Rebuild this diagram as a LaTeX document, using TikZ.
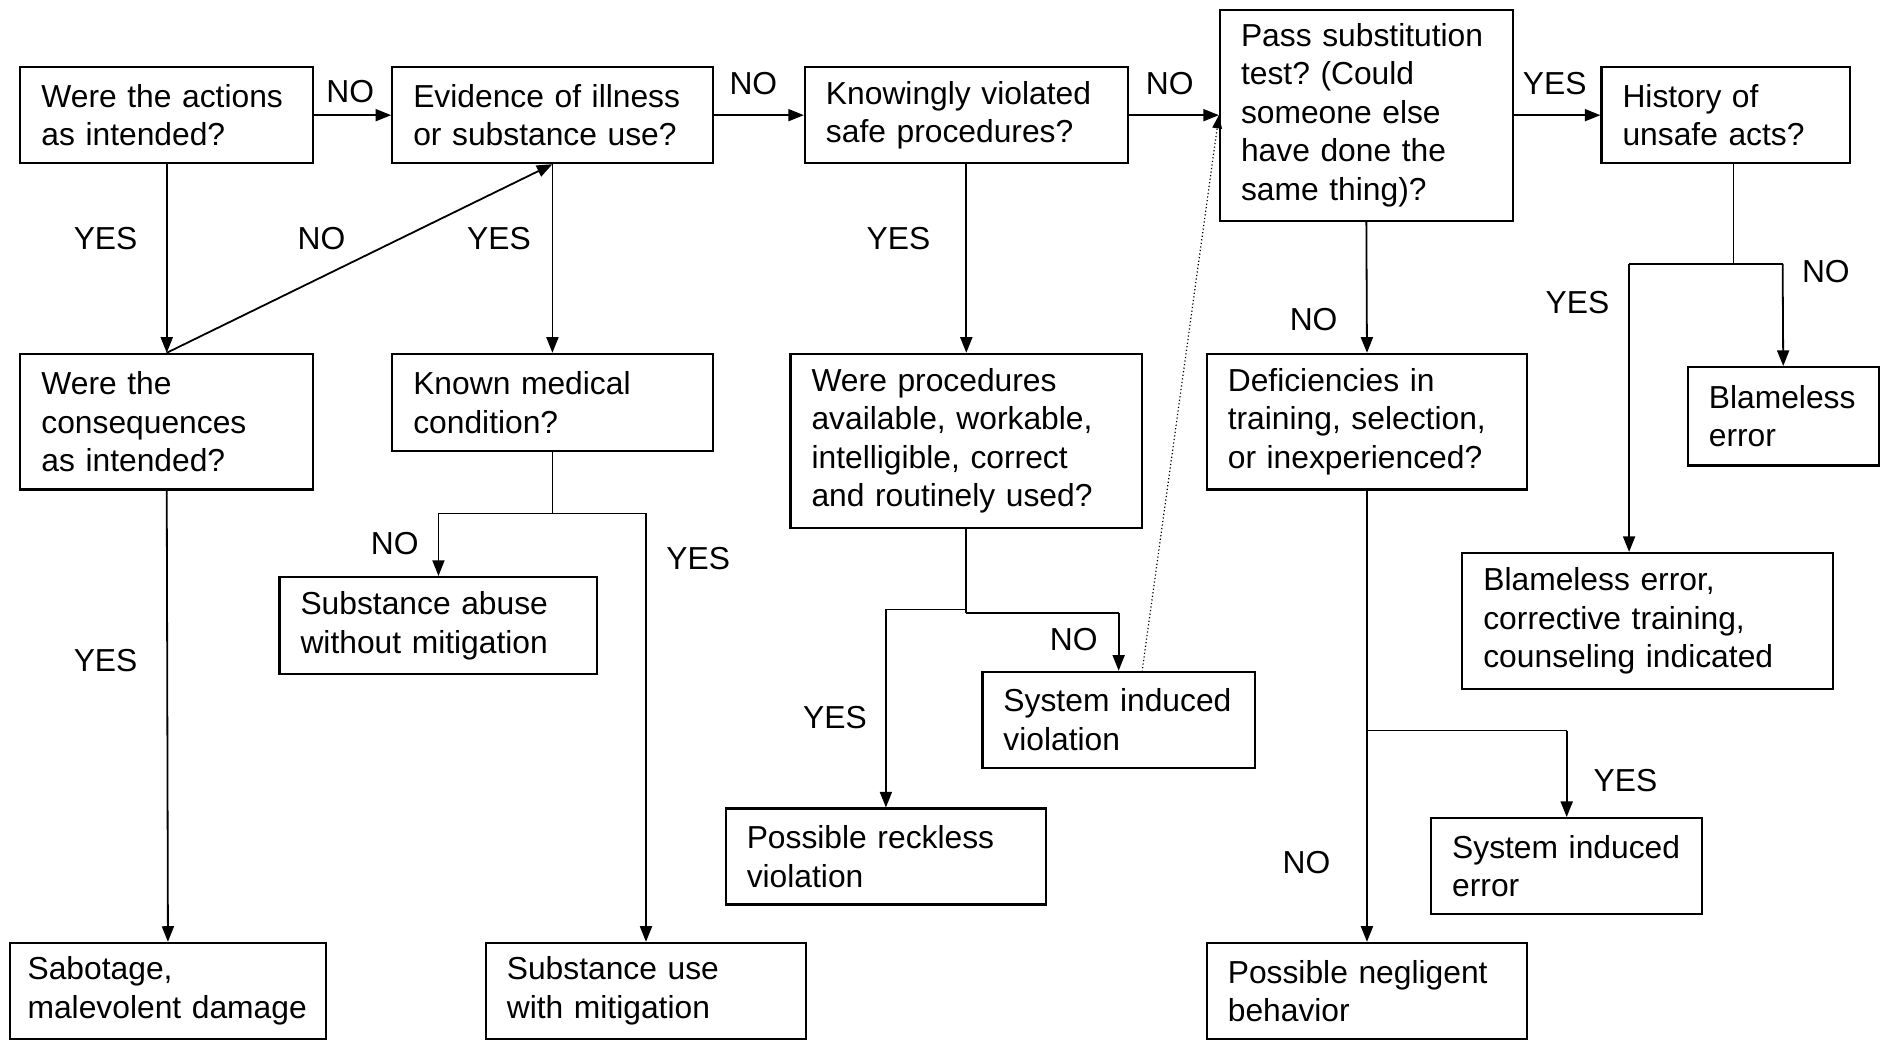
\documentclass[tikz,border=0pt]{standalone}
\usepackage{fontspec}
\setmainfont{Liberation Sans}
\usetikzlibrary{arrows.meta}
\begin{document}
\frenchspacing
\hyphenpenalty=10000
\exhyphenpenalty=10000
\begin{tikzpicture}[x=1pt,y=-1pt,
  every node/.style={font=\fontsize{26.5}{32}\selectfont},
  box/.style={draw, line width=1.8pt, align=left, inner xsep=17.5pt, inner ysep=0pt, anchor=center},
  lbl/.style={inner sep=0pt, anchor=center},
  arr/.style={line width=1.5pt, -{Triangle[length=13pt,width=10pt]}},
  ln/.style={line width=1.5pt},
  dotline/.style={line width=1pt, dotted, -{Triangle[length=11pt,width=8pt]}}]
\useasboundingbox (0,0) rectangle (1568,867.5);
% boxes: center (x,y), width w, height h
\node[box, text width=209pt, minimum height=80pt] (A) at (139,96) {Were the actions\\as intended?};
\node[box, text width=232pt, minimum height=80pt] (B) at (460.5,96) {Evidence of illness\\or substance use?};
\node[box, text width=234pt, minimum height=80pt] (C) at (805.5,96) {Knowingly violated\\safe procedures?};
\node[box, text width=209pt, minimum height=176pt] (D) at (1139,96) {Pass substitution\\test? (Could\\someone else\\have done the\\same thing)?};
\node[box, text width=172pt, minimum height=80pt] (E) at (1438.5,96) {History of\\unsafe acts?};
\node[box, text width=209pt, minimum height=113pt] (F) at (139,351.5) {Were the\\consequences\\as intended?};
\node[box, text width=232pt, minimum height=81pt] (G) at (460.5,335.5) {Known medical\\condition?};
\node[box, text width=258pt, minimum height=145pt] (H) at (805.5,367.5) {Were procedures\\available, workable,\\intelligible, correct\\and routinely used?};
\node[box, text width=232pt, minimum height=113pt] (I) at (1139.5,351.5) {Deficiencies in\\training, selection,\\or inexperienced?};
\node[box, text width=124pt, minimum height=82pt] (J) at (1486.5,347) {Blameless\\error};
\node[box, text width=230pt, minimum height=81pt] (K) at (365.5,521.5) {Substance abuse\\without mitigation};
\node[box, text width=192pt, minimum height=80pt] (L) at (932.5,600) {System induced\\violation};
\node[box, text width=274pt, minimum height=113pt] (M) at (1373.5,517.5) {Blameless error,\\corrective training,\\counseling indicated};
\node[box, text width=232pt, minimum height=80pt] (N) at (738.5,714) {Possible reckless\\violation};
\node[box, text width=191pt, minimum height=80pt] (O) at (1306,722) {System induced\\error};
\node[box, inner xsep=15pt, text width=234pt, minimum height=80pt] (P) at (140,826) {Sabotage,\\malevolent damage};
\node[box, text width=232pt, minimum height=80pt] (Q) at (538.5,826) {Substance use\\with mitigation};
\node[box, text width=232pt, minimum height=80pt] (R) at (1139.5,826) {Possible negligent\\behavior};
% junction coordinates
\coordinate (e1) at (1445,220);
\coordinate (eL) at (1358,220);
\coordinate (eR) at (1486,220);
\coordinate (g1) at (460.5,428);
\coordinate (gL) at (365.5,428);
\coordinate (gR) at (538.5,428);
\coordinate (hL1) at (805.5,508);
\coordinate (hL) at (738.5,508);
\coordinate (hR1) at (805.5,511);
\coordinate (hR) at (932.5,511);
\coordinate (i1) at (1139.5,609);
\coordinate (iR) at (1306,609);
\coordinate (ds) at (952,560);
% connectors
\draw[arr] (A.east) -- (B.west);
\draw[arr] (B.east) -- (C.west);
\draw[arr] (C.east) -- (D.west);
\draw[arr] (D.east) -- (E.west);
\draw[arr] (A.south) -- (F.north);
\draw[arr] (F.north) -- (B.south);
\draw[arr] (B.south) -- (G.north);
\draw[arr] (C.south) -- (H.north);
\draw[arr] (D.south) -- (I.north);
\draw[arr] (F.south) -- (P.north);
\draw[ln] (e1 |- E.south) -- (e1);
\draw[ln] (eL) -- (eR);
\draw[arr] (eR) -- (J.north);
\draw[arr] (eL) -- (eL |- M.north);
\draw[ln] (G.south) -- (g1);
\draw[ln] (gL) -- (gR);
\draw[arr] (gL) -- (K.north);
\draw[arr] (gR) -- (Q.north);
\draw[ln] (H.south) -- (hR1);
\draw[ln] (hL1) -- (hL);
\draw[arr] (hL) -- (N.north);
\draw[ln] (hR1) -- (hR);
\draw[arr] (hR) -- (L.north);
\draw[arr] (I.south) -- (R.north);
\draw[ln] (i1) -- (iR);
\draw[arr] (iR) -- (O.north);
\draw[dotline] (ds) -- (D.west);
% labels
\node[lbl] (l1) at (292,76) {NO};
\node[lbl] (l2) at (628,70) {NO};
\node[lbl] (l3) at (975,70) {NO};
\node[lbl] (l4) at (1296,70) {YES};
\node[lbl] (l5) at (88,199) {YES};
\node[lbl] (l6) at (268,199) {NO};
\node[lbl] (l7) at (416,199) {YES};
\node[lbl] (l8) at (749,199) {YES};
\node[lbl] (l9) at (1095,266) {NO};
\node[lbl] (l10) at (1522,226) {NO};
\node[lbl] (l11) at (1315,252) {YES};
\node[lbl] (l12) at (329,453) {NO};
\node[lbl] (l13) at (582,466) {YES};
\node[lbl] (l14) at (88,551) {YES};
\node[lbl] (l15) at (895,533) {NO};
\node[lbl] (l16) at (696,598) {YES};
\node[lbl] (l17) at (1355,651) {YES};
\node[lbl] (l18) at (1089,719) {NO};
\end{tikzpicture}
\end{document}
